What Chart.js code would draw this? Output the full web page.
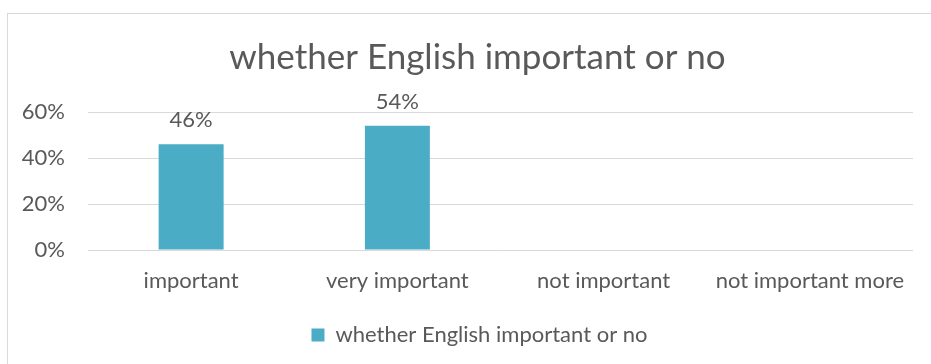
<!DOCTYPE html>
<html lang="en">
<head>
<meta charset="UTF-8">
<title>whether English important or no</title>
<script src="https://cdn.jsdelivr.net/npm/chart.js"></script>
<style>
  html, body { margin: 0; padding: 0; background: #fff; }
  #wrap { position: relative; width: 931px; height: 364px; overflow: hidden; }
  #frame { position: absolute; left: 7px; top: 13px; width: 940px; height: 400px; border: 1px solid #d9d9d9; box-sizing: border-box; }
  canvas { position: absolute; left: 0; top: 0; }
</style>
</head>
<body>
<div id="wrap">
  <div id="frame"></div>
  <canvas id="chart" width="931" height="364"></canvas>
</div>
<script>
const categories = ['important', 'very important', 'not important', 'not important more'];
const shares = [46, 54, null, null];
const seriesName = 'whether English important or no';
const yTicks = [0, 20, 40, 60];

const FONT = 'Lato, "Open Sans", sans-serif';
const GREY = '#595959';
const LABEL_SIZE = 22;

// writes the percentage above each drawn bar
const valueLabels = {
  id: 'valueLabels',
  afterDatasetsDraw(chart) {
    const ctx = chart.ctx;
    const meta = chart.getDatasetMeta(0);
    ctx.save();
    ctx.font = LABEL_SIZE + 'px ' + FONT;
    ctx.fillStyle = GREY;
    ctx.textAlign = 'center';
    ctx.textBaseline = 'middle';
    meta.data.forEach((bar, i) => {
      const v = shares[i];
      if (v == null) return;
      ctx.fillText(v + '%', bar.x, bar.y - 24);
    });
    ctx.restore();
  }
};

// title and legend sit a little right of the canvas centre
const nudgeBlocks = {
  id: 'nudgeBlocks',
  afterLayout(chart) {
    if (chart.titleBlock) { chart.titleBlock.left += 10; chart.titleBlock.right += 10; }
    if (chart.legend) { chart.legend.left += 12; chart.legend.right += 12; }
  }
};

new Chart(document.getElementById('chart'), {
  type: 'bar',
  data: {
    labels: categories,
    datasets: [{
      label: seriesName,
      data: shares,
      backgroundColor: '#4BACC6',
      categoryPercentage: 1,
      barPercentage: 0.315
    }]
  },
  options: {
    responsive: false,
    animation: false,
    layout: { padding: { left: 22, right: 18, top: 0, bottom: 8 } },
    plugins: {
      title: {
        display: true,
        text: seriesName,
        color: GREY,
        font: { family: FONT, size: 35, weight: 'normal', lineHeight: 1.2 },
        padding: { top: 37, bottom: 33 }
      },
      legend: {
        position: 'bottom',
        labels: {
          color: GREY,
          font: { family: FONT, size: LABEL_SIZE },
          boxWidth: 13,
          boxHeight: 13,
          padding: 10
        }
      },
      tooltip: { enabled: false }
    },
    scales: {
      x: {
        afterFit(axis) { axis.height = 64; },
        grid: { display: false, drawTicks: false },
        border: { display: false },
        ticks: { color: GREY, font: { family: FONT, size: LABEL_SIZE }, padding: 18 }
      },
      y: {
        min: 0,
        max: 60,
        afterBuildTicks(axis) { axis.ticks = yTicks.map(v => ({ value: v })); },
        afterFit(axis) { axis.width = 66; },
        grid: { color: '#d9d9d9', lineWidth: 1, drawTicks: false },
        border: { display: false },
        ticks: {
          color: GREY,
          font: { family: FONT, size: LABEL_SIZE },
          padding: 23,
          callback: v => v + '%'
        }
      }
    }
  },
  plugins: [valueLabels, nudgeBlocks]
});
</script>
</body>
</html>
